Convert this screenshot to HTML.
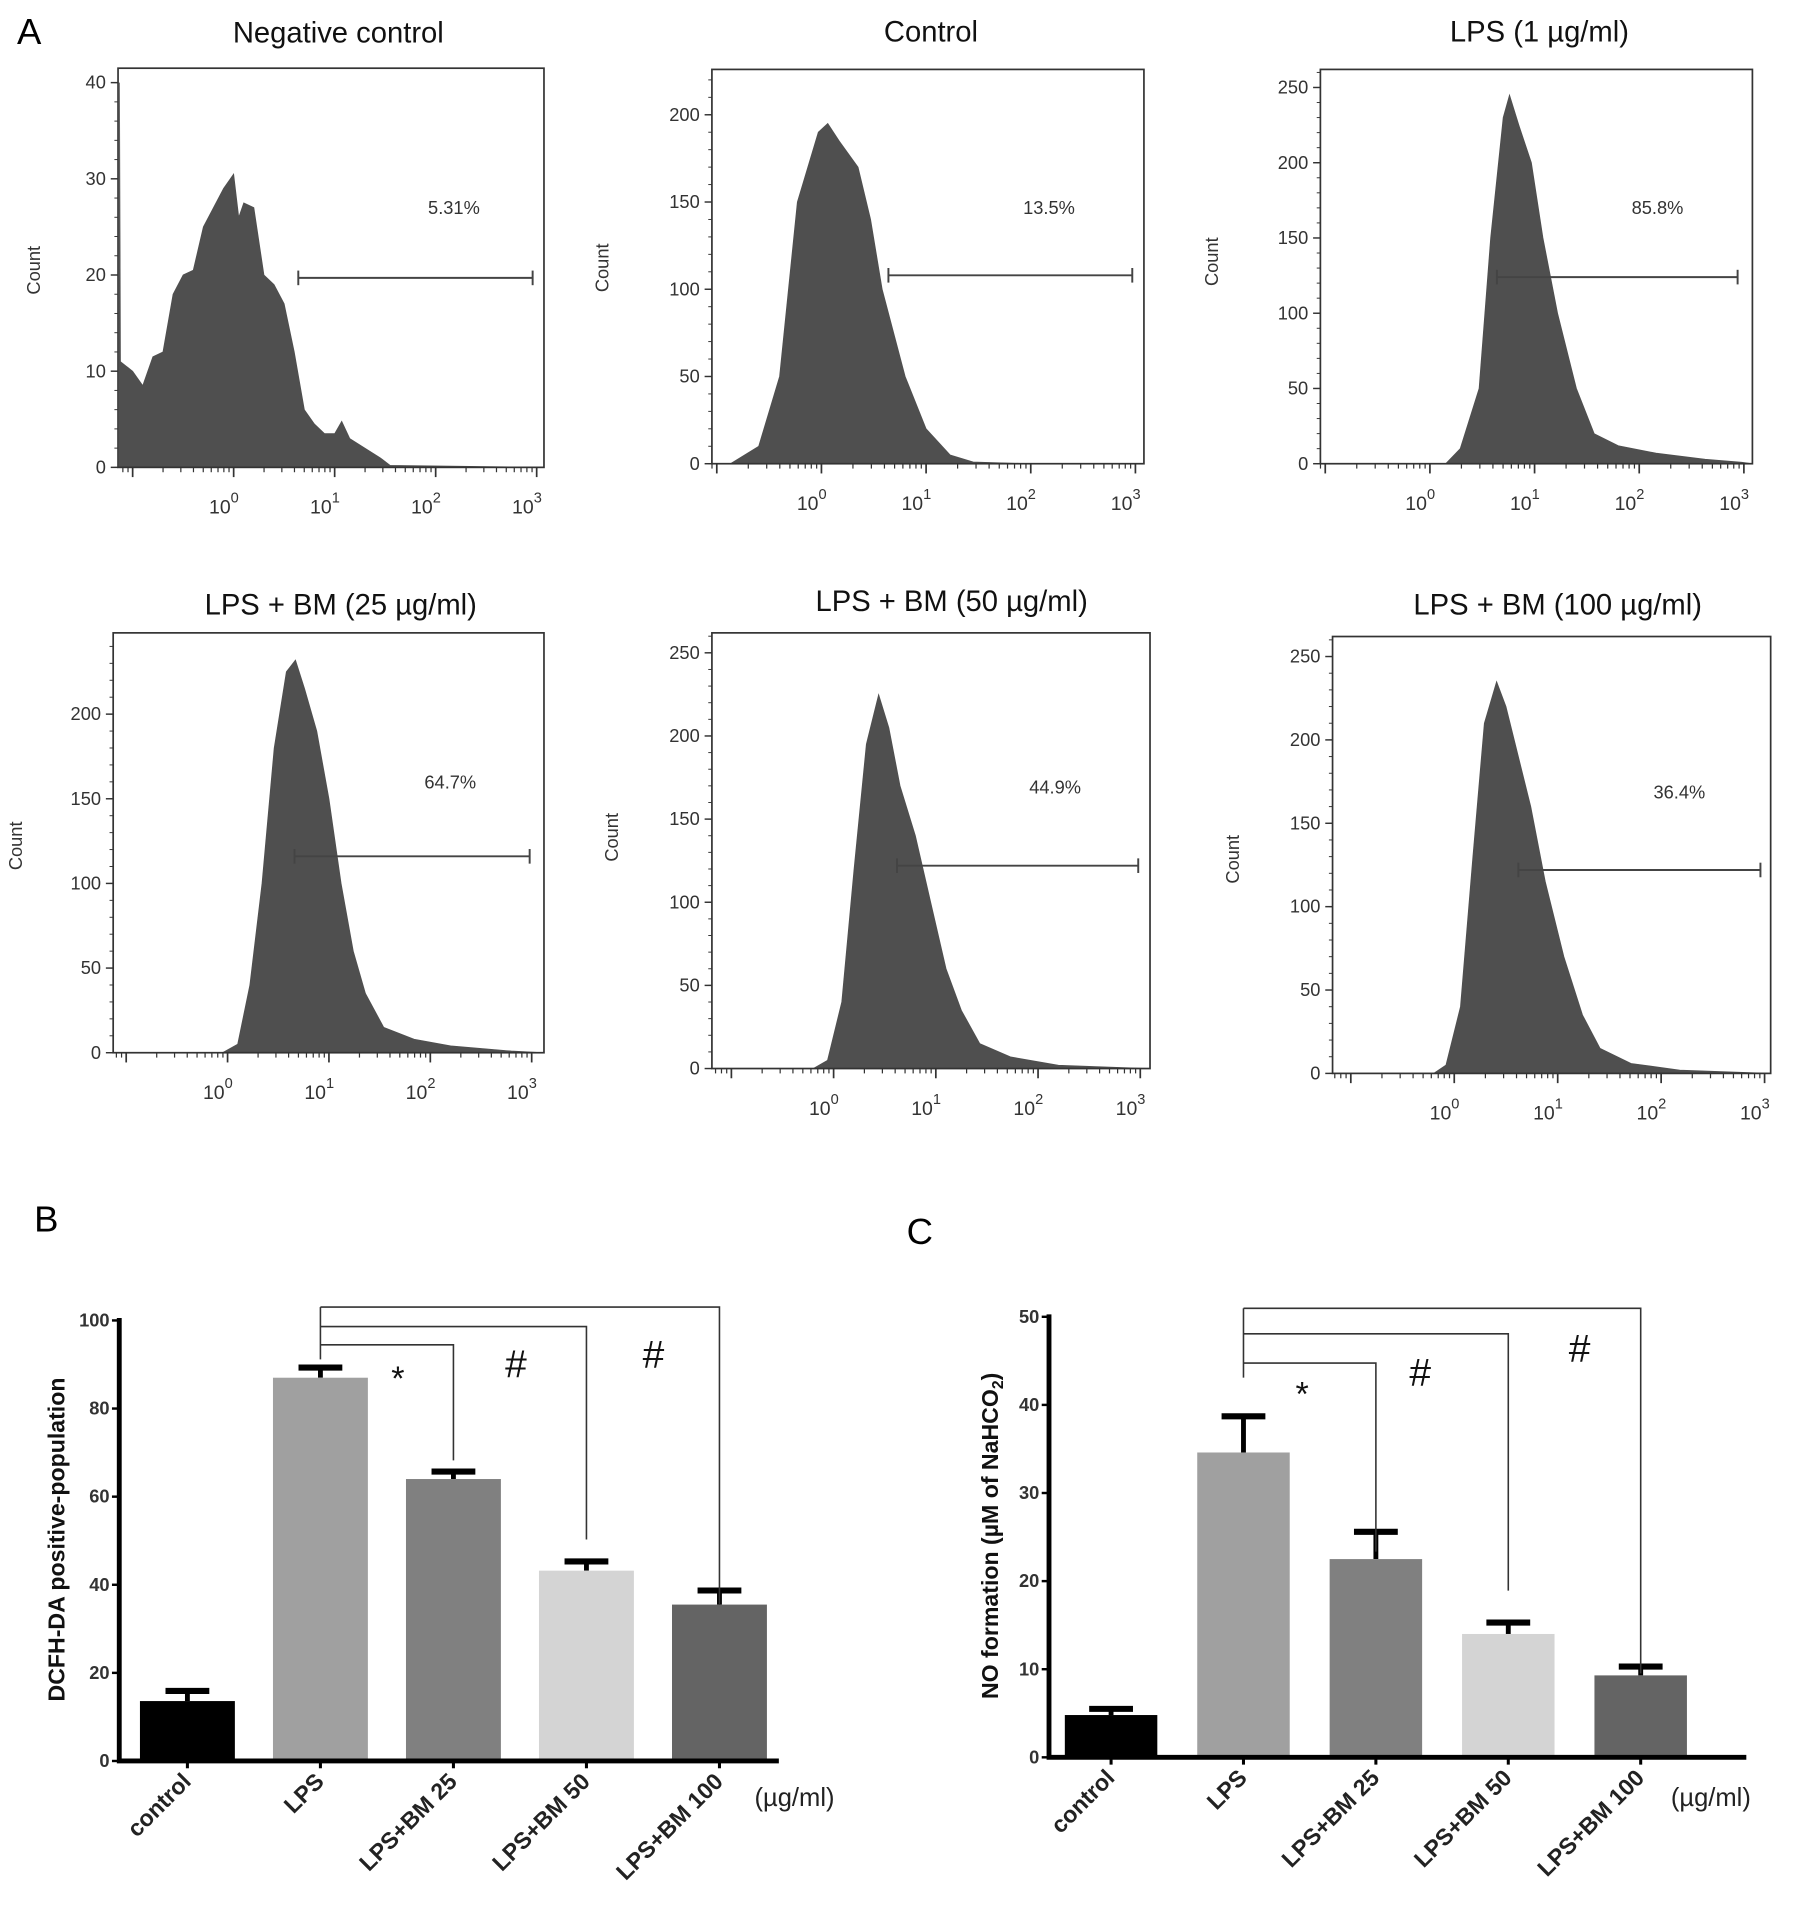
<!DOCTYPE html>
<html><head><meta charset="utf-8"><style>
html,body{margin:0;padding:0;background:#fff;}
svg{display:block;font-family:"Liberation Sans",Arial,sans-serif;}
</style></head><body>
<svg id="fig" width="1795" height="1905" viewBox="0 0 1475 1565.3" xmlns="http://www.w3.org/2000/svg">
<text x="14" y="36" font-size="30">A</text>
<text x="28" y="1012" font-size="30">B</text>
<text x="745" y="1022" font-size="30">C</text>
</svg>
<script>
// ---- Histogram data: [log10 intensity, count] ----
const histNames = ["Negative control","Control","LPS (1 µg/ml)","LPS + BM (25 µg/ml)","LPS + BM (50 µg/ml)","LPS + BM (100 µg/ml)"];
const histPct = ["5.31%","13.5%","85.8%","64.7%","44.9%","36.4%"];
const hist1 = [[-1.13,40],[-1.12,11],[-1.0,10],[-0.9,8.5],[-0.8,11.5],[-0.7,12],[-0.6,18],[-0.5,20],[-0.4,20.5],[-0.3,25],[-0.2,27],[-0.1,29],[0,30.5],[0.05,26],[0.1,27.5],[0.2,27],[0.3,20],[0.4,19],[0.5,17],[0.6,12],[0.7,6],[0.8,4.5],[0.9,3.5],[1.0,3.5],[1.07,4.8],[1.15,3],[1.3,2],[1.45,1],[1.55,0.2]];
const hist2 = [[-0.87,0],[-0.6,10],[-0.4,50],[-0.23,150],[-0.03,190],[0.06,195],[0.17,185],[0.35,170],[0.47,140],[0.58,100],[0.8,50],[1.0,20],[1.23,5],[1.45,1],[2.0,0]];
const hist3 = [[0.15,0],[0.29,10],[0.47,50],[0.58,150],[0.7,230],[0.76,245],[0.85,225],[0.97,200],[1.08,150],[1.22,100],[1.4,50],[1.57,20],[1.8,12],[2.16,7],[2.63,3],[2.98,1]];
const hist4 = [[-0.05,0],[0.1,5],[0.22,40],[0.34,100],[0.46,180],[0.58,225],[0.67,232],[0.76,215],[0.88,190],[1.0,150],[1.12,100],[1.24,60],[1.36,35],[1.54,15],[1.84,8],[2.2,4],[2.8,1]];
const hist5 = [[-0.2,0],[-0.06,5],[0.08,40],[0.2,120],[0.32,195],[0.44,225],[0.54,205],[0.65,170],[0.8,140],[0.95,100],[1.1,60],[1.25,35],[1.43,15],[1.73,7],[2.2,2]];
const hist6 = [[-0.2,0],[-0.08,5],[0.06,40],[0.18,130],[0.29,210],[0.41,235],[0.5,220],[0.62,190],[0.74,160],[0.88,115],[1.06,70],[1.24,35],[1.41,15],[1.71,6],[2.18,2]];
const histYTicks = [[0,10,20,30,40],[0,50,100,150,200],[0,50,100,150,200,250],[0,50,100,150,200],[0,50,100,150,200,250],[0,50,100,150,200,250]];
const histGate = [[0.64,2.96,19.7],[0.64,2.97,108],[0.64,2.94,124],[0.66,2.98,116],[0.62,2.98,122],[0.62,2.96,122]];
const L = [
 {bx0:97,bx1:447,top:56,base:384,ymax:41.5,dec0:192,dw:83,tx:278,ty:35,cx:33,cy:222,px:373,py:176},
 {bx0:585,bx1:940,top:57,base:381,ymax:226,dec0:675,dw:86,tx:765,ty:34,cx:500,cy:220,px:862,py:176},
 {bx0:1085,bx1:1440,top:57,base:381,ymax:262,dec0:1175,dw:86,tx:1265,ty:34,cx:1001,cy:215,px:1362,py:176},
 {bx0:93,bx1:447,top:520,base:865,ymax:248,dec0:187,dw:83.3,tx:280,ty:505,cx:18,cy:695,px:370,py:648},
 {bx0:585,bx1:945,top:520,base:878,ymax:262,dec0:685,dw:84,tx:782,ty:502,cx:508,cy:688,px:867,py:652},
 {bx0:1095,bx1:1455,top:523,base:882,ymax:262,dec0:1195,dw:85,tx:1280,ty:505,cx:1018,cy:706,px:1380,py:656}
];
const hists=[hist1,hist2,hist3,hist4,hist5,hist6];
const NS="http://www.w3.org/2000/svg";
const svg=document.getElementById('fig');
function mk(tag,attrs,parent,txt){const e=document.createElementNS(NS,tag);for(const k in attrs)e.setAttribute(k,attrs[k]);if(txt!==undefined)e.textContent=txt;(parent||svg).appendChild(e);return e;}

hists.forEach((h,i)=>{
 const l=L[i];
 const g=mk('g',{});
 
 
 const sx=v=>l.dec0+v*l.dw;
 const sy=c=>l.base-(c/l.ymax)*(l.base-l.top);
 const t=mk('text',{x:l.tx,y:l.ty,'font-size':24,'text-anchor':'middle',fill:'#111'},g,histNames[i]);
 
 
 let d='M'+l.bx0+','+l.base;
 if(i===0) d+=' L'+(l.bx0+1)+','+l.base;
 h.forEach(p=>{d+=' L'+Math.max(l.bx0,sx(p[0])).toFixed(1)+','+sy(p[1]).toFixed(1);});
 d+=' L'+l.bx1+','+l.base+' Z';
 const a=mk('path',{d:d,fill:'#4f4f4f',stroke:'#4f4f4f','stroke-width':0.6},g);
 
 
 const b=mk('rect',{x:l.bx0,y:l.top,width:l.bx1-l.bx0,height:l.base-l.top,fill:'none',stroke:'#333','stroke-width':1.4},g);
 
 
 histYTicks[i].forEach(v=>{
  const y=sy(v);
  mk('line',{x1:l.bx0-6,x2:l.bx0,y1:y,y2:y,stroke:'#333','stroke-width':1.2},g);
  const tt=mk('text',{x:l.bx0-10,y:y+5,'font-size':15,'text-anchor':'end',fill:'#333'},g,String(v));
  
  
 });
 const st=histYTicks[i][1]/5;
 for(let v=0;v<=l.ymax;v+=st){const y=sy(v);mk('line',{x1:l.bx0-3,x2:l.bx0,y1:y,y2:y,stroke:'#333','stroke-width':0.8},g);}
 const ct=mk('text',{x:l.cx,y:l.cy,'font-size':15,'text-anchor':'middle',fill:'#333',transform:'rotate(-90 '+l.cx+' '+l.cy+')'},g,'Count');
 
 
 for(let dcd=-2;dcd<=3;dcd++){
  for(let m=1;m<10;m++){
   const x=sx(dcd+Math.log10(m));
   if(x<l.bx0||x>l.bx1+1)continue;
   const len=m===1?8:4;
   mk('line',{x1:x,x2:x,y1:l.base,y2:l.base+len,stroke:'#333','stroke-width':m===1?1.4:1},g);
  }
  if(dcd>=0){
   const x=sx(dcd);
   const tl=mk('text',{x:x-8,y:l.base+38,'font-size':16,'text-anchor':'middle',fill:'#333'},g);
   
   
   mk('tspan',{},tl,'10');
   mk('tspan',{dy:-9,'font-size':12},tl,String(dcd));
  }
 }
 const gt=histGate[i];
 const gx0=sx(gt[0]),gx1=sx(gt[1]),gy=sy(gt[2]);
 const gg=mk('g',{stroke:'#444','stroke-width':1.6},g);
 
 
 mk('line',{x1:gx0,x2:gx1,y1:gy,y2:gy},gg);
 mk('line',{x1:gx0,x2:gx0,y1:gy-6,y2:gy+6},gg);
 mk('line',{x1:gx1,x2:gx1,y1:gy-6,y2:gy+6},gg);
 const pt=mk('text',{x:l.px,y:l.py,'font-size':15,'text-anchor':'middle',fill:'#333'},g,histPct[i]);
 
 
});

// ---- Bar charts ----
const barCats = ["control","LPS","LPS+BM 25","LPS+BM 50","LPS+BM 100"];
const barColors = ["#000000","#a0a0a0","#808080","#d4d4d4","#646464"];
const dcfhValues = [13.6,87,64,43.2,35.5];
const dcfhErrors = [2.3,2.3,1.7,2.1,3.2];
const dcfhTicks = [0,20,40,60,80,100];
const noValues = [4.8,34.6,22.5,14,9.3];
const noErrors = [0.7,4.1,3.1,1.3,1.0];
const noTicks = [0,10,20,30,40,50];

function barChart(o){
 const g=mk('g',{});
 
 
 const sy=v=>o.y0-(v/o.vmax)*(o.y0-o.ytop);
 const bx=i=>o.x0+o.gap+i*o.step;
 o.vals.forEach((v,i)=>{
  const x=bx(i),y=sy(v);
  const cx=x+o.bw/2;
  const ey=sy(v+o.errs[i]);
  const el=mk('line',{x1:cx,x2:cx,y1:y,y2:ey,stroke:'#000','stroke-width':4},g);
  
  
  mk('line',{x1:cx-18,x2:cx+18,y1:ey,y2:ey,stroke:'#000','stroke-width':5},g);
  const r=mk('rect',{x:x,y:y,width:o.bw,height:o.y0-y,fill:barColors[i]},g);
  
  
  mk('line',{x1:cx,x2:cx,y1:o.y0,y2:o.y0+6,stroke:'#000','stroke-width':2.5},g);
  const lt=mk('text',{x:cx+4,y:o.y0+18,'font-size':19,'font-weight':'bold','text-anchor':'end',fill:'#222',transform:'rotate(-45 '+(cx+4)+' '+(o.y0+18)+')'},g,barCats[i]);
  
  
 });
 const ax=mk('path',{d:'M'+o.x0+','+(o.ytop-2)+' L'+o.x0+','+o.y0+' L'+o.xend+','+o.y0,fill:'none',stroke:'#000','stroke-width':4},g);
 
 
 o.ticks.forEach(v=>{
  const y=sy(v);
  mk('line',{x1:o.x0-6,x2:o.x0,y1:y,y2:y,stroke:'#000','stroke-width':2},g);
  const t=mk('text',{x:o.x0-8,y:y+5,'font-size':15,'font-weight':'bold','text-anchor':'end',fill:'#333'},g,String(v));
  
  
 });
 const yt=mk('text',{x:o.ylx,y:o.yly,'font-size':19,'font-weight':'bold','text-anchor':'middle',fill:'#111',transform:'rotate(-90 '+o.ylx+' '+o.yly+')'},g);
 
 
 if(o.sub){mk('tspan',{},yt,'NO formation (µM of NaHCO');mk('tspan',{'font-size':13,dy:4},yt,'2');mk('tspan',{dy:-4},yt,')');}
 else yt.textContent=o.ytitle;
 const u=mk('text',{x:o.ux,y:o.uy,'font-size':21,fill:'#222'},g,'(µg/ml)');
 
 
 const lx=bx(1)+o.bw/2;
 const br=mk('g',{stroke:'#333','stroke-width':1.3,fill:'none'},g);
 
 
 o.brk.forEach((b,k)=>{
  const rx=bx(k+2)+o.bw/2;
  mk('path',{d:'M'+lx+','+b[0]+' L'+rx+','+b[0]+' L'+rx+','+b[1]},br);
 });
 mk('line',{x1:lx,x2:lx,y1:o.brk[o.brk.length-1][0],y2:o.brk[0][0]+12},br);
 o.marks.forEach(m=>{
  const t=mk('text',{x:m[0],y:m[1],'font-size':m[2]==='*'?28:32,'text-anchor':'middle',fill:'#111'},g,m[2]);
  
  
 });
}
barChart({name:'dcfh-bar-chart',vals:dcfhValues,errs:dcfhErrors,ticks:dcfhTicks,vmax:100,x0:98,xend:640,y0:1447,ytop:1085,gap:17,step:109.3,bw:78,
 ylx:53,yly:1265,ytitle:'DCFH-DA positive-population',ux:620,uy:1484,
 brk:[[1105,1200],[1090,1265],[1074,1318]],marks:[[327,1142,'*'],[424,1132,'#'],[537,1124,'#']]});
barChart({name:'no-bar-chart',vals:noValues,errs:noErrors,ticks:noTicks,vmax:50,x0:862,xend:1435,y0:1444,ytop:1082,gap:13,step:108.8,bw:76,
 ylx:820,yly:1262,sub:true,ux:1373,uy:1484,
 brk:[[1120,1275],[1096,1307],[1075,1375]],marks:[[1070,1155,'*'],[1167,1139,'#'],[1298,1119,'#']]});
</script>
</body></html>
